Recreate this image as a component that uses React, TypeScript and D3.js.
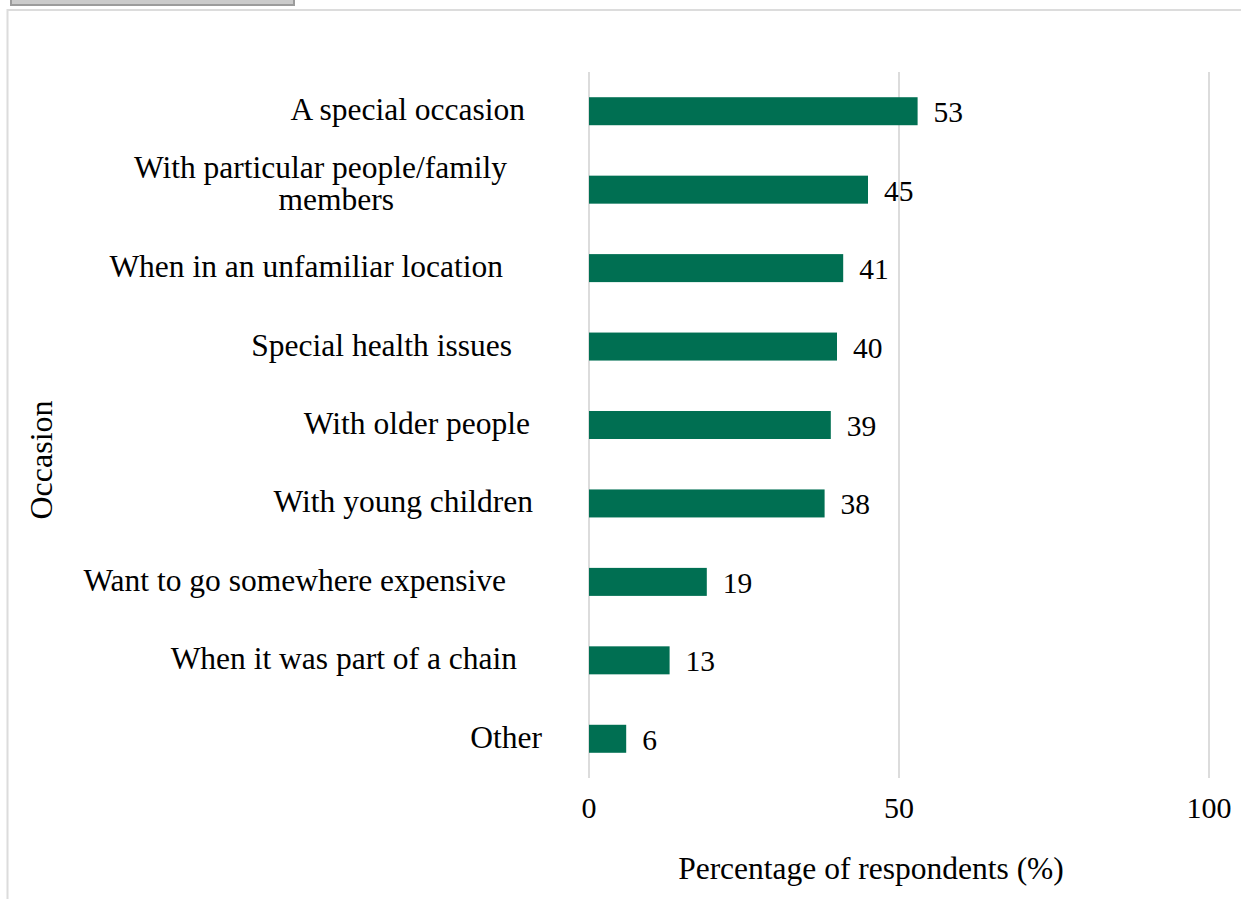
import React from "react";
import * as d3 from "d3";

const categories = [
  "A special occasion",
  "With particular people/family members",
  "When in an unfamiliar location",
  "Special health issues",
  "With older people",
  "With young children",
  "Want to go somewhere expensive",
  "When it was part of a chain",
  "Other",
];
const values = [53, 45, 41, 40, 39, 38, 19, 13, 6];
const xTicks = [0, 50, 100];
const xTitle = "Percentage of respondents (%)";
const yTitle = "Occasion";

// layout: how each category label is broken into lines and where each line ends
const labelLines: Record<string, string[]> = {
  "With particular people/family members": ["With particular people/family", "members"],
};
const labelRight: number[] = [525, 507, 503, 512, 530, 533, 506, 517, 542];
const secondLineRight = 394;

const W = 1241;
const H = 899;
const BAR = "#006f52";
const GRID = "#d9d9d9";
const FONT = "'Liberation Serif', 'Times New Roman', serif";

export default function App() {
  const x = d3.scaleLinear().domain([0, 100]).range([589, 1209]);
  const y = d3
    .scaleBand<string>()
    .domain(categories)
    .range([72, 778])
    .paddingInner(0.643)
    .paddingOuter(0.3215);
  const bw = y.bandwidth();

  return (
    <svg
      width={W}
      height={H}
      style={{ position: "absolute", left: 0, top: 0, background: "#fff" }}
      fontFamily={FONT}
    >
      {/* top grey tab */}
      <rect x={11} y={-6} width={283} height={11} fill="#cbcbcb" stroke="#9c9c9c" strokeWidth={2} />
      {/* frame */}
      <rect x={7.5} y={10} width={W + 10} height={H + 10} fill="none" stroke="#dcdcdc" strokeWidth={2} />

      {/* gridlines */}
      {xTicks.map((t) => (
        <line key={t} x1={x(t)} x2={x(t)} y1={72} y2={778} stroke={GRID} strokeWidth={1.8} />
      ))}

      {/* bars */}
      {categories.map((c, i) => (
        <rect
          key={c}
          x={x(0)}
          y={y(c)!}
          width={x(values[i]) - x(0)}
          height={bw}
          fill={BAR}
        />
      ))}

      {/* value labels */}
      {categories.map((c, i) => (
        <text
          key={c}
          x={x(values[i]) + 16}
          y={y(c)! + bw / 2 + 11}
          fontSize={29.5}
          fill="#000"
        >
          {values[i]}
        </text>
      ))}

      {/* category labels */}
      {categories.map((c, i) => {
        const cy = y(c)! + bw / 2;
        const lines = labelLines[c];
        if (lines) {
          return (
            <g key={c} fontSize={31.5} fill="#000">
              <text x={labelRight[i]} y={cy - 12} textAnchor="end">
                {lines[0]}
              </text>
              <text x={secondLineRight} y={cy + 20.5} textAnchor="end">
                {lines[1]}
              </text>
            </g>
          );
        }
        return (
          <text key={c} x={labelRight[i]} y={cy + 9} textAnchor="end" fontSize={31.5} fill="#000">
            {c}
          </text>
        );
      })}

      {/* x tick labels */}
      {xTicks.map((t) => (
        <text key={t} x={x(t)} y={818} textAnchor="middle" fontSize={30} fill="#000">
          {t}
        </text>
      ))}

      {/* axis titles */}
      <text x={871} y={879} textAnchor="middle" fontSize={31.5} fill="#000">
        {xTitle}
      </text>
      <text
        transform={`translate(52,460) rotate(-90)`}
        textAnchor="middle"
        fontSize={32}
        fill="#000"
      >
        {yTitle}
      </text>
    </svg>
  );
}
